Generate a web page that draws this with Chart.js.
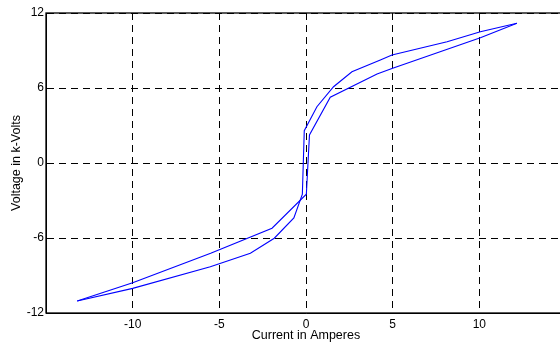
<!DOCTYPE html>
<html>
<head>
<meta charset="utf-8">
<script src="https://cdn.jsdelivr.net/npm/chart.js@4/dist/chart.umd.min.js"></script>
<style>
  html, body { margin: 0; padding: 0; background: #fff; overflow: hidden; }
  #wrap { width: 570px; height: 345px; }
</style>
</head>
<body>
<div id="wrap"><canvas id="hyst" width="570" height="345"></canvas></div>
<script>
// branch A: upper on the left, crosses on the right-hand vertical
var currentA = [-13.2, -10, -5.5, -1.96, 0.02, 0.2, 1.4, 4.1, 5.0, 10.06, 12.17];
var voltageA = [-11.04, -9.58, -7.22, -5.22, -2.5, 2.24, 5.26, 7.12, 7.58, 10.02, 11.18];

// branch B: lower on the left, left-hand vertical
var currentB = [-13.2, -10, -5.52, -3.21, -1.83, -0.7, -0.21, -0.1, 0.63, 1.59, 2.65, 4.29, 4.96, 8.14, 10.06, 12.17];
var voltageB = [-11.04, -10.03, -8.3, -7.22, -6.02, -4.4, -2.5, 2.58, 4.5, 6.1, 7.3, 8.24, 8.64, 9.7, 10.5, 11.18];

var xTicks = [-10, -5, 0, 5, 10];
var yTicks = [-12, -6, 0, 6, 12];

function toPoints(xs, ys) {
    var pts = [];
    for (var i = 0; i < xs.length; i++) pts.push({ x: xs[i], y: ys[i] });
    return pts;
}

// draws the solid frame round the plot area (matlab style box)
var boxPlugin = {
    id: 'box',
    afterDatasetsDraw: function (chart) {
        var a = chart.chartArea, ctx = chart.ctx;
        ctx.save();
        ctx.strokeStyle = '#000';
        ctx.lineWidth = 1.3;
        ctx.setLineDash([]);
        ctx.strokeRect(a.left, a.top, a.right - a.left, a.bottom - a.top);
        ctx.restore();
    }
};

var fam = '"Liberation Sans", Arial, sans-serif';
var tickFont = { family: fam, size: 12 };
var titleFont = { family: fam, size: 12.5 };

new Chart(document.getElementById('hyst').getContext('2d'), {
    type: 'scatter',
    data: {
        datasets: [{
            data: toPoints(currentA, voltageA),
            showLine: true,
            borderColor: '#0000ff',
            borderWidth: 1.1,
            pointRadius: 0,
            tension: 0
        }, {
            data: toPoints(currentB, voltageB),
            showLine: true,
            borderColor: '#0000ff',
            borderWidth: 1.1,
            pointRadius: 0,
            tension: 0
        }]
    },
    options: {
        responsive: false,
        animation: false,
        devicePixelRatio: 1,
        layout: { padding: { left: 0, top: 13, right: 4, bottom: 0 } },
        plugins: { legend: { display: false }, tooltip: { enabled: false } },
        scales: {
            x: {
                type: 'linear',
                min: -15, max: 15,
                afterBuildTicks: function (s) { s.ticks = xTicks.map(function (v) { return { value: v }; }); },
                afterFit: function (s) { s.height = 32; },
                grid: { color: '#000', lineWidth: 1, drawTicks: false },
                border: { display: true, color: '#000', dash: [7, 5] },
                ticks: { color: '#000', font: tickFont, padding: 4, maxRotation: 0 },
                title: { display: true, text: 'Current in Amperes', color: '#000', font: titleFont, padding: { top: 0, bottom: 2 } }
            },
            y: {
                type: 'linear',
                min: -12, max: 12,
                afterBuildTicks: function (s) { s.ticks = yTicks.map(function (v) { return { value: v }; }); },
                afterFit: function (s) { s.width = 46; },
                grid: { color: '#000', lineWidth: 1, drawTicks: false },
                border: { display: true, color: '#000', dash: [7, 5] },
                ticks: { color: '#000', font: tickFont, padding: 2 },
                title: { display: true, text: 'Voltage in k-Volts', color: '#000', font: titleFont, padding: { top: 9, bottom: 0 } }
            }
        }
    },
    plugins: [boxPlugin]
});
</script>
</body>
</html>
